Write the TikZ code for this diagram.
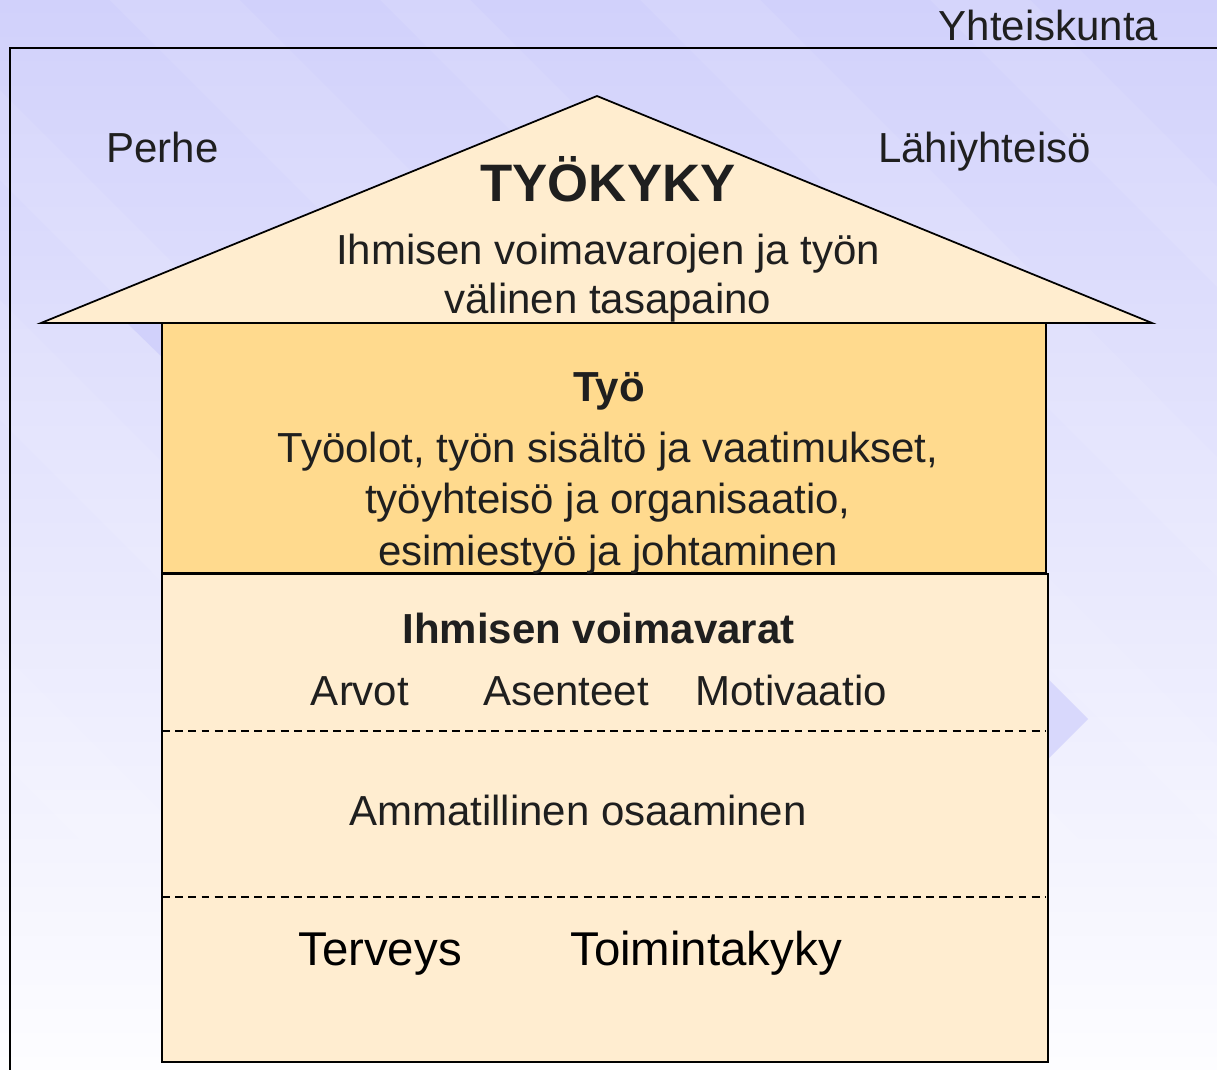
\documentclass[tikz,border=0pt]{standalone}
\usepackage{fontspec}
\setmainfont{Liberation Sans}
\definecolor{bgtop}{HTML}{D1D1FB}
\definecolor{bgmid}{HTML}{E8E8FD}
\definecolor{bgbot}{HTML}{FDFDFF}
\definecolor{roof}{HTML}{FFEDCF}
\definecolor{work}{HTML}{FFDA8E}
\definecolor{base}{HTML}{FFEDD0}
\definecolor{ink}{HTML}{1F1F1F}
\tikzset{
  txt/.style={inner sep=0pt, anchor=base, text=ink, font=\fontsize{23.9}{29}\selectfont},
  bigtxt/.style={txt, text=black, font=\fontsize{27}{32}\selectfont},
  headtxt/.style={txt, font=\bfseries\fontsize{23.9}{29}\selectfont},
  multitxt/.style={txt, align=center, font=\fontsize{23.9}{29.3}\selectfont},
  stripe/.style={fill=white, opacity=0.09},
}
\begin{document}
\begin{tikzpicture}[x=0.02cm, y=-0.02cm]
		\useasboundingbox (0,0) rectangle (1217,1069);
		\clip (0,0) rectangle (1217,1069);
		% background
		\shade[top color=bgtop, middle color=bgmid, bottom color=bgbot] (0,0) rectangle (1217,1069);
		\foreach \a/\w in {-760/110, -420/120, -180/90, 110/130, 380/90, 640/120, 930/100}
			\fill[stripe] (\a,0) -- (\a+\w,0) -- (\a+\w+1100,1100) -- (\a+1100,1100) -- cycle;
		\fill[bgtop!85!white] (1047,678) -- (1088,719) -- (1047,760) -- cycle;
		\fill[bgtop] (127,323) -- (162,323) -- (162,357) -- cycle;
		
		% frame
		\coordinate (fa) at (10,1100);
		\coordinate (fb) at (10,48);
		\coordinate (fc) at (1240,48);
		\draw[line width=1.5pt] (fa) -- (fb) -- (fc);
		
		% boxes
		\coordinate (w1) at (162,323);
		\coordinate (w2) at (1046,573);
		\coordinate (b1) at (162,574);
		\coordinate (b2) at (1048,1062);
		\draw[fill=work, line width=1pt] (w1) rectangle (w2);
		\draw[fill=base, line width=1.2pt] (b1) rectangle (b2);
		
		\coordinate (d1l) at (162,731);
		\coordinate (d1r) at (1046,731);
		\coordinate (d2l) at (162,897);
		\coordinate (d2r) at (1046,897);
		\draw[dash pattern=on 4.5pt off 3pt, line width=0.8pt] (d1l) -- (d1r);
		\draw[dash pattern=on 4.5pt off 3pt, line width=0.8pt] (d2l) -- (d2r);
		
		% roof
		\coordinate (top) at (597,96);
		\coordinate (left) at (41,323);
		\coordinate (right) at (1152,323);
		\draw[fill=roof, line width=1pt, line join=miter] (left) -- (top) -- (right) -- cycle;
		
		% texts
		\node[txt] (yhteis) at (1048.5,40) {Yhteiskunta};
		\node[txt] (perhe) at (162.5,162) {Perhe};
		\node[txt] (lahi) at (984.5,162) {Lähiyhteisö};
		\node[txt, font=\bfseries\fontsize{30}{36}\selectfont] (tyokyky) at (608,201.5) {TYÖKYKY};
		\node[multitxt, font=\fontsize{23.9}{27.5}\selectfont] (tasapaino) at (608,313) {Ihmisen voimavarojen ja työn\\välinen tasapaino};
		\node[headtxt] (tyo) at (609,401.5) {Työ};
		\node[multitxt] (tyoteksti) at (608,565) {Työolot, työn sisältö ja vaatimukset,\\työyhteisö ja organisaatio,\\esimiestyö ja johtaminen};
		\node[headtxt] (voimavarat) at (598.5,643) {Ihmisen voimavarat};
		\node[txt] (arvot) at (360,705) {Arvot};
		\node[txt] (asenteet) at (566,705) {Asenteet};
		\node[txt] (motivaatio) at (791,705) {Motivaatio};
		\node[txt] (osaaminen) at (578,825) {Ammatillinen osaaminen};
		\node[bigtxt] (terveys) at (380,965) {Terveys};
		\node[bigtxt] (toimintakyky) at (706,965) {Toimintakyky};
		
	\end{tikzpicture}
\end{document}
